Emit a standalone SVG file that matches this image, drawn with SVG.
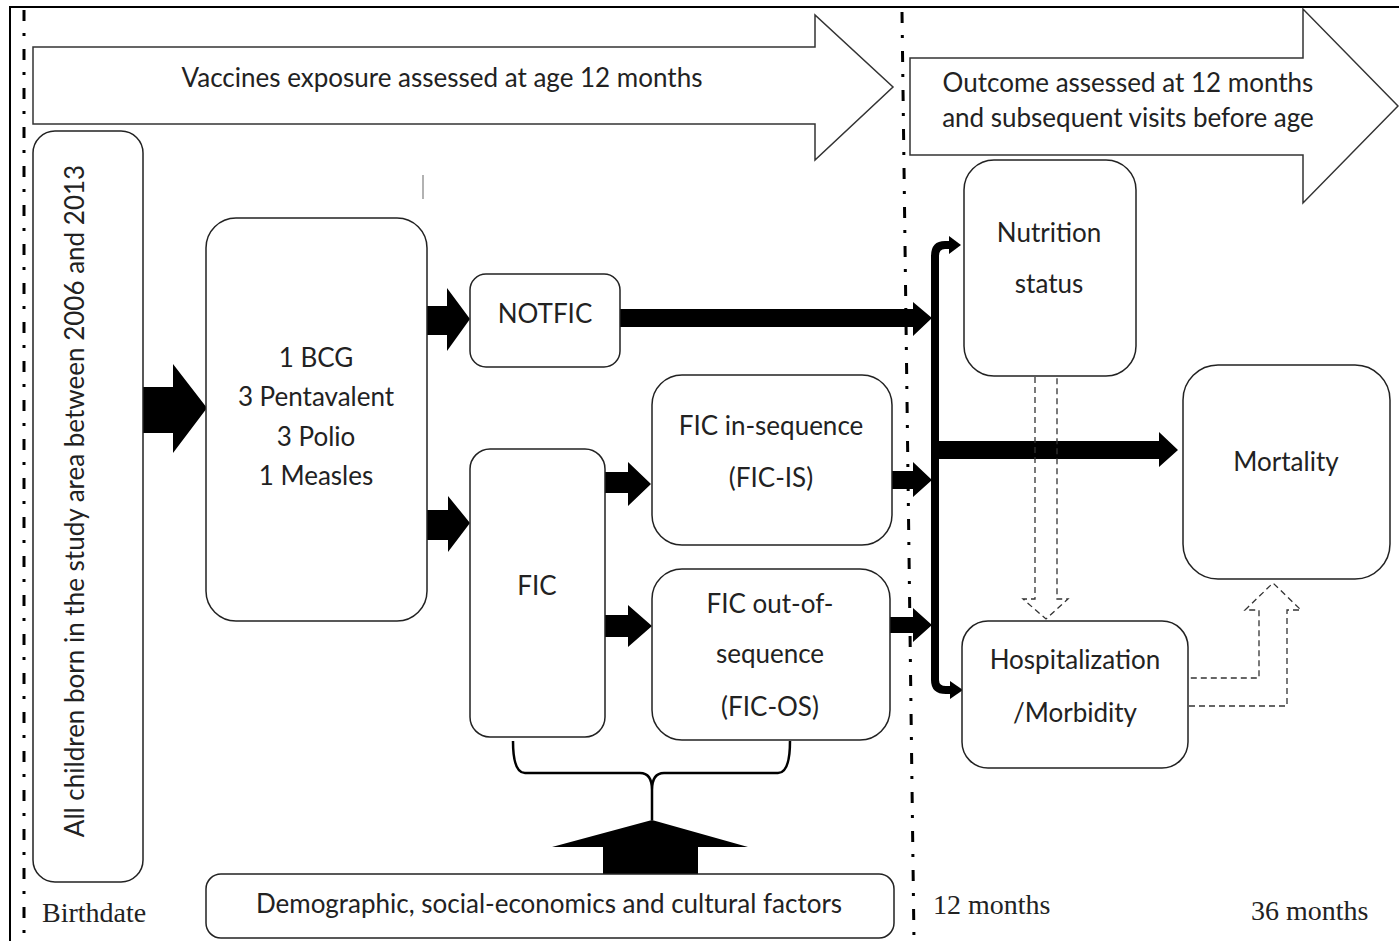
<svg xmlns="http://www.w3.org/2000/svg" width="1399" height="941" viewBox="0 0 1399 941">
<style>
.box{fill:#fff;stroke:#222;stroke-width:1.5}
.t{font-family:Lato,"Open Sans","Liberation Sans",sans-serif;font-size:26px;fill:#222;text-anchor:middle}
.s{font-family:"Liberation Serif",serif;font-size:28px;fill:#222}
.blk{fill:#000;stroke:none}
.dd{fill:none;stroke:#000;stroke-width:3;stroke-dasharray:11 12 3 13}
.dash{fill:none;stroke:#333;stroke-width:1.3;stroke-dasharray:6 4}
.big{fill:#fff;stroke:#333;stroke-width:1.5}
</style>
<rect width="1399" height="941" fill="#fff"/>
<path d="M10,941 V7 H1399" fill="none" stroke="#000" stroke-width="2"/>
<line class="dd" x1="24" y1="10" x2="24" y2="941"/>
<line class="dd" x1="902" y1="12" x2="914" y2="941"/>
<line x1="423" y1="175" x2="423" y2="199" stroke="#999" stroke-width="1.5"/>

<g id="arrow-vaccines">
<path class="big" d="M33,47 H815 V15 L893,87 L815,160 V124 H33 Z"/>
<text class="t" x="442" y="87">Vaccines exposure assessed at age 12 months</text>
</g>
<g id="arrow-outcome">
<path class="big" d="M910,58 H1303 V9 L1398,106 L1303,203 V155 H910 Z"/>
<text class="t" x="1128" y="92">Outcome assessed at 12 months</text>
<text class="t" x="1128" y="127">and subsequent visits before age</text>
</g>

<g id="connectors">
<path class="blk" d="M143,387 H173 V364 L207,408 L173,453 V433 H143 Z"/>
<path class="blk" d="M427,306 H447 V288 L470,319 L447,351 V335 H427 Z"/>
<path class="blk" d="M427,510 H448 V496 L470,523 L448,552 V540 H427 Z"/>
<path class="blk" d="M605,472 H628 V462 L651,484 L628,506 V493 H605 Z"/>
<path class="blk" d="M605,615 H628 V605 L652,626 L628,647 V637 H605 Z"/>
<path class="blk" d="M620,309 H913 V302 L932,318 L913,336 V327 H620 Z"/>
<path class="blk" d="M892,471 H913 V462 L932,480 L913,497 V489 H892 Z"/>
<path class="blk" d="M890,617 H913 V608 L932,625 L913,642 V633 H890 Z"/>
<path class="blk" d="M939,441 H1159 V432 L1178,450 L1159,467 V459 H939 Z"/>
<path d="M952,245 H945 Q935,245 935,256 V680 Q935,690 946,690 H953" fill="none" stroke="#000" stroke-width="8"/>
<path class="blk" d="M949,236 L961,245 L949,254 Z"/>
<path class="blk" d="M950,681 L963,690 L950,699 Z"/>
<path class="dash" d="M1035,377 V599 H1023 L1046,619 L1068,599 H1057 V377"/>
<path class="dash" d="M1189,706 H1287 V610 H1301 L1273,583 L1245,610 H1259 V678 H1189"/>
<path d="M513,741 Q513,773 525,773 H640 Q652,773 652,790 V820 M790,741 Q790,773 778,773 H664 Q652,773 652,790" fill="none" stroke="#000" stroke-width="2.5"/>
<path class="blk" d="M603,874 V847 H552 L652,820 L748,847 H698 V874 Z"/>
</g>

<g id="node-children">
<rect class="box" x="33" y="131" width="110" height="751" rx="22"/>
<text class="t" transform="translate(84,501) rotate(-90)">All children born in the study area between 2006 and 2013</text>
</g>
<g id="node-vaccines">
<rect class="box" x="206" y="218" width="221" height="403" rx="30"/>
<text class="t" x="316" y="367">1 BCG</text>
<text class="t" x="316" y="406">3 Pentavalent</text>
<text class="t" x="316" y="446">3 Polio</text>
<text class="t" x="316" y="485">1 Measles</text>
</g>
<g id="node-notfic">
<rect class="box" x="470" y="274" width="150" height="93" rx="16"/>
<text class="t" x="545" y="323">NOTFIC</text>
</g>
<g id="node-fic">
<rect class="box" x="470" y="449" width="135" height="288" rx="20"/>
<text class="t" x="537" y="595">FIC</text>
</g>
<g id="node-fic-is">
<rect class="box" x="652" y="375" width="240" height="170" rx="30"/>
<text class="t" x="771" y="435">FIC in-sequence</text>
<text class="t" x="771" y="487">(FIC-IS)</text>
</g>
<g id="node-fic-os">
<rect class="box" x="652" y="569" width="238" height="171" rx="30"/>
<text class="t" x="770" y="613">FIC out-of-</text>
<text class="t" x="770" y="663">sequence</text>
<text class="t" x="770" y="716">(FIC-OS)</text>
</g>
<g id="node-nutrition">
<rect class="box" x="964" y="160" width="172" height="216" rx="30"/>
<text class="t" x="1049" y="242">Nutrition</text>
<text class="t" x="1049" y="293">status</text>
</g>
<g id="node-mortality">
<rect class="box" x="1183" y="365" width="207" height="214" rx="35"/>
<text class="t" x="1286" y="471">Mortality</text>
</g>
<g id="node-hosp">
<rect class="box" x="962" y="621" width="226" height="147" rx="26"/>
<text class="t" x="1075" y="669">Hospitalization</text>
<text class="t" x="1075" y="722">/Morbidity</text>
</g>
<g id="node-factors">
<rect class="box" x="206" y="874" width="688" height="64" rx="15"/>
<text class="t" x="549" y="913">Demographic, social-economics and cultural factors</text>
</g>
<g id="labels">
<text class="s" x="42" y="922">Birthdate</text>
<text class="s" x="933" y="914">12 months</text>
<text class="s" x="1251" y="920">36 months</text>
</g>
</svg>
